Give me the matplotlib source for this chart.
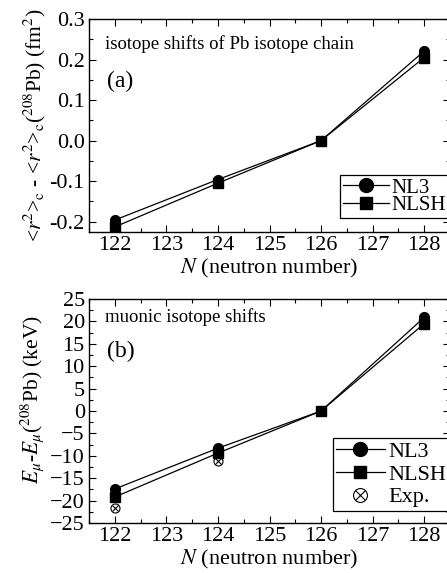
import numpy as np
import matplotlib
matplotlib.use("Agg")
import matplotlib.pyplot as plt
from matplotlib.ticker import MultipleLocator

plt.rcParams['font.family'] = ['Liberation Serif', 'DejaVu Serif']
plt.rcParams['mathtext.fontset'] = 'stix'

# datos
N = [122, 124, 126, 128]
r2_nl3 = [-0.196, -0.096, 0.0, 0.221]
r2_nlsh = [-0.213, -0.105, 0.0, 0.205]
N_exp = [122, 124]
mu_nl3 = [-17.4, -8.3, 0.0, 20.9]
mu_nlsh = [-19.2, -9.4, 0.0, 19.5]
mu_exp = [-21.7, -11.1]

fig = plt.figure(figsize=(4.47, 5.73), dpi=100)
W, H = 447.0, 573.0
ax1 = fig.add_axes([89/W, 1-232/H, (450-89)/W, (232-19)/H])
ax2 = fig.add_axes([89/W, 1-523/H, (450-89)/W, (523-299)/H])

def estilo(ax):
    ax.set_xlim(121.5, 128.5)
    ax.xaxis.set_major_locator(MultipleLocator(1))
    ax.xaxis.set_minor_locator(MultipleLocator(0.5))
    ax.tick_params(which='both', direction='in', top=True, right=True,
                   labelsize=16, width=0.8)
    ax.tick_params(which='major', length=5)
    ax.tick_params(which='minor', length=3)
    ax.tick_params(axis='x', which='major', pad=3)
    ax.tick_params(axis='y', which='major', pad=3)
    for s in ax.spines.values():
        s.set_linewidth(1.0)
    ax.set_xlabel(r'$N$ (neutron number)', fontsize=16, labelpad=1)

def leyenda(ax, handles, labels, y0, fs, sp):
    leg = ax.legend(handles, labels, loc='lower right', bbox_to_anchor=(0.998, y0),
                    fontsize=fs, handlelength=2.2, handletextpad=0.15,
                    borderpad=0.15, labelspacing=sp, fancybox=False,
                    edgecolor='black', framealpha=1, borderaxespad=0)
    leg.get_frame().set_linewidth(0.9)

# (a)
ax1.plot(N, r2_nl3, 'k-', marker='o', ms=7, lw=0.9)
ax1.plot(N, r2_nlsh, 'k-', marker='s', ms=6.5, lw=0.9)
ax1.set_ylim(-0.2255, 0.3)
ax1.yaxis.set_major_locator(MultipleLocator(0.1))
ax1.yaxis.set_minor_locator(MultipleLocator(0.05))
ax1.yaxis.set_major_formatter(plt.FuncFormatter(lambda v, p: '%.1f' % v))
estilo(ax1)
ax1.set_ylabel(r'<$r^2$>$_{\rm c}$ - <$r^2$>$_{\rm c}$($^{208}$Pb) (fm$^2$)',
               fontsize=15.5, labelpad=1)
ax1.text(0.045, 0.883, 'isotope shifts of Pb isotope chain',
         transform=ax1.transAxes, fontsize=13.5, va='center')
ax1.text(0.05, 0.705, '(a)', transform=ax1.transAxes, fontsize=17, va='center')
l1, = ax1.plot([], [], 'k-', marker='o', ms=10, lw=0.9)
l2, = ax1.plot([], [], 'k-', marker='s', ms=9, lw=0.9)
leyenda(ax1, [l1, l2], ['NL3', 'NLSH'], 0.066, 15, -0.12)

# (b)
ax2.plot(N, mu_nl3, 'k-', marker='o', ms=7, lw=0.9)
ax2.plot(N, mu_nlsh, 'k-', marker='s', ms=6.5, lw=0.9)
ax2.plot(N_exp, mu_exp, ls='none', marker='o', ms=6.5, mfc='none', mec='k', mew=0.8)
ax2.plot(N_exp, mu_exp, ls='none', marker='x', ms=4.5, mec='k', mew=0.8)
ax2.set_ylim(-25, 25)
ax2.yaxis.set_major_locator(MultipleLocator(5))
ax2.yaxis.set_minor_locator(MultipleLocator(2.5))
estilo(ax2)
ax2.set_ylabel(r'$E_{\mu}$-$E_{\mu}$($^{208}$Pb) (keV)', fontsize=15.5)
ax2.yaxis.set_label_coords(-0.12, 0.55)
ax2.text(0.045, 0.92, 'muonic isotope shifts', transform=ax2.transAxes,
         fontsize=13.5, va='center')
ax2.text(0.05, 0.765, '(b)', transform=ax2.transAxes, fontsize=17, va='center')
m1, = ax2.plot([], [], 'k-', marker='o', ms=10, lw=0.9)
m2, = ax2.plot([], [], 'k-', marker='s', ms=9, lw=0.9)
e1, = ax2.plot([], [], ls='none', marker='o', ms=10, mfc='none', mec='k', mew=0.8)
e2, = ax2.plot([], [], ls='none', marker='x', ms=6.5, mec='k', mew=0.8)
leyenda(ax2, [m1, m2, (e1, e2)], ['NL3', 'NLSH', 'Exp.'], 0.055, 16, 0.1)

fig.savefig('out.png', dpi=100)
